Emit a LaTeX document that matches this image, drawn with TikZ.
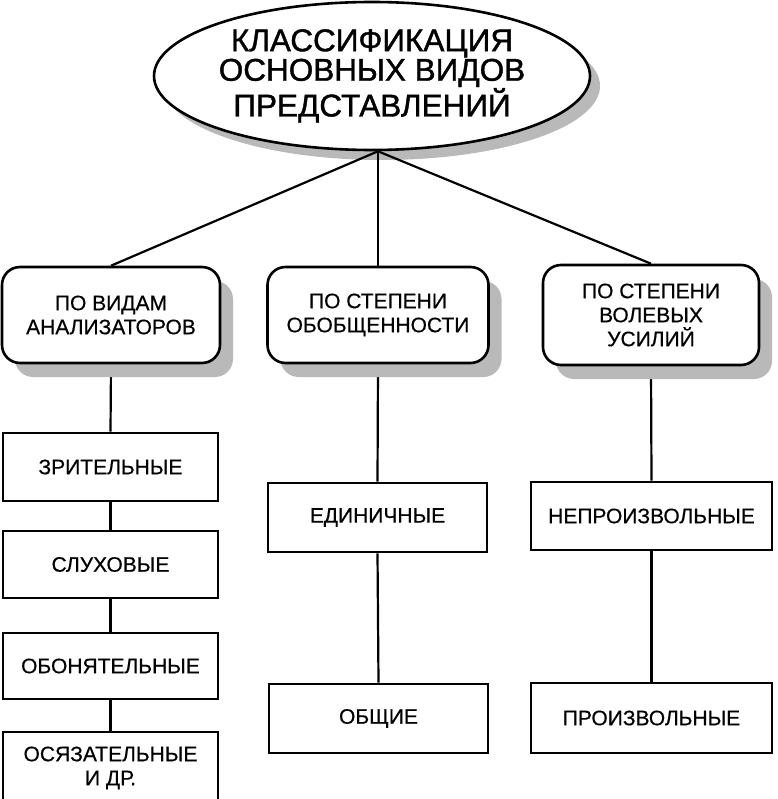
\documentclass[tikz,border=0pt]{standalone}
\usepackage{fontspec}
\setmainfont{Liberation Sans}
\usetikzlibrary{shadows,shapes.geometric,backgrounds}
\begin{document}
\begin{tikzpicture}[x=1pt,y=-1pt,
  title/.style={ellipse, draw, line width=2.6pt, fill=white, minimum width=436pt, minimum height=148pt, inner sep=0pt, align=center, font=\fontsize{31.5}{29.5}\selectfont\addfontfeature{FakeBold=1.2}, drop shadow={shadow xshift=10pt, shadow yshift=-10pt, fill=gray!55, opacity=1}},
  group/.style={draw, rounded corners=18pt, line width=2.6pt, fill=white, inner sep=0pt, align=center, font=\fontsize{21}{24}\selectfont\addfontfeature{FakeBold=0.5}, drop shadow={shadow xshift=13pt, shadow yshift=-14pt, fill=gray!55, opacity=1}},
  item/.style={draw, line width=2.6pt, fill=white, inner sep=0pt, align=center, font=\fontsize{21}{24}\selectfont\addfontfeature{FakeBold=0.5}},
  link/.style={line width=2.2pt}]
\useasboundingbox (0,0) rectangle (777,799);
\clip (0,0) rectangle (777,799);

\node[title] (e) at (372,76) {КЛАССИФИКАЦИЯ\\ОСНОВНЫХ ВИДОВ\\ПРЕДСТАВЛЕНИЙ};
\coordinate (j) at ([xshift=6pt]e.south);

\node[group, minimum width=218pt, minimum height=96pt] (b1) at (111,315) {ПО ВИДАМ\\АНАЛИЗАТОРОВ};
\node[group, minimum width=221pt, minimum height=96pt] (b2) at (378,315) {ПО СТЕПЕНИ\\ОБОБЩЕННОСТИ};
\node[group, minimum width=216pt, minimum height=100pt] (b3) at (651,315) {ПО СТЕПЕНИ\\ВОЛЕВЫХ\\УСИЛИЙ};

\node[item, minimum width=215pt, minimum height=68pt] (l1) at (110.5,467) {ЗРИТЕЛЬНЫЕ};
\node[item, minimum width=215pt, minimum height=67pt] (l2) at (110.5,564.5) {СЛУХОВЫЕ};
\node[item, minimum width=215pt, minimum height=66pt] (l3) at (110.5,666) {ОБОНЯТЕЛЬНЫЕ};
\node[item, minimum width=215pt, minimum height=72pt] (l4) at (110.5,768) {ОСЯЗАТЕЛЬНЫЕ\\И ДР.};

\node[item, minimum width=219pt, minimum height=69pt] (m1) at (377.5,517.5) {ЕДИНИЧНЫЕ};
\node[item, minimum width=219pt, minimum height=69pt] (m2) at (378.5,718.5) {ОБЩИЕ};

\node[item, minimum width=241pt, minimum height=68pt] (r1) at (651.5,516) {НЕПРОИЗВОЛЬНЫЕ};
\node[item, minimum width=241pt, minimum height=70pt] (r2) at (651.5,718) {ПРОИЗВОЛЬНЫЕ};

\draw[link] (j) -- (b1.north);
\draw[link] (j) -- (b2.north);
\draw[link] (j) -- (b3.north);

\begin{pgfonlayer}{background}
\draw[link] (b1.south) -- (l1.north);
\draw[link] (l1.south) -- (l2.north);
\draw[link] (l2.south) -- (l3.north);
\draw[link] (l3.south) -- (l4.north);
\draw[link] (b2.south) -- (m1.north);
\draw[link] (m1.south) -- (m2.north);
\draw[link] (b3.south) -- (r1.north);
\draw[link] (r1.south) -- (r2.north);
\end{pgfonlayer}
\end{tikzpicture}
\end{document}
